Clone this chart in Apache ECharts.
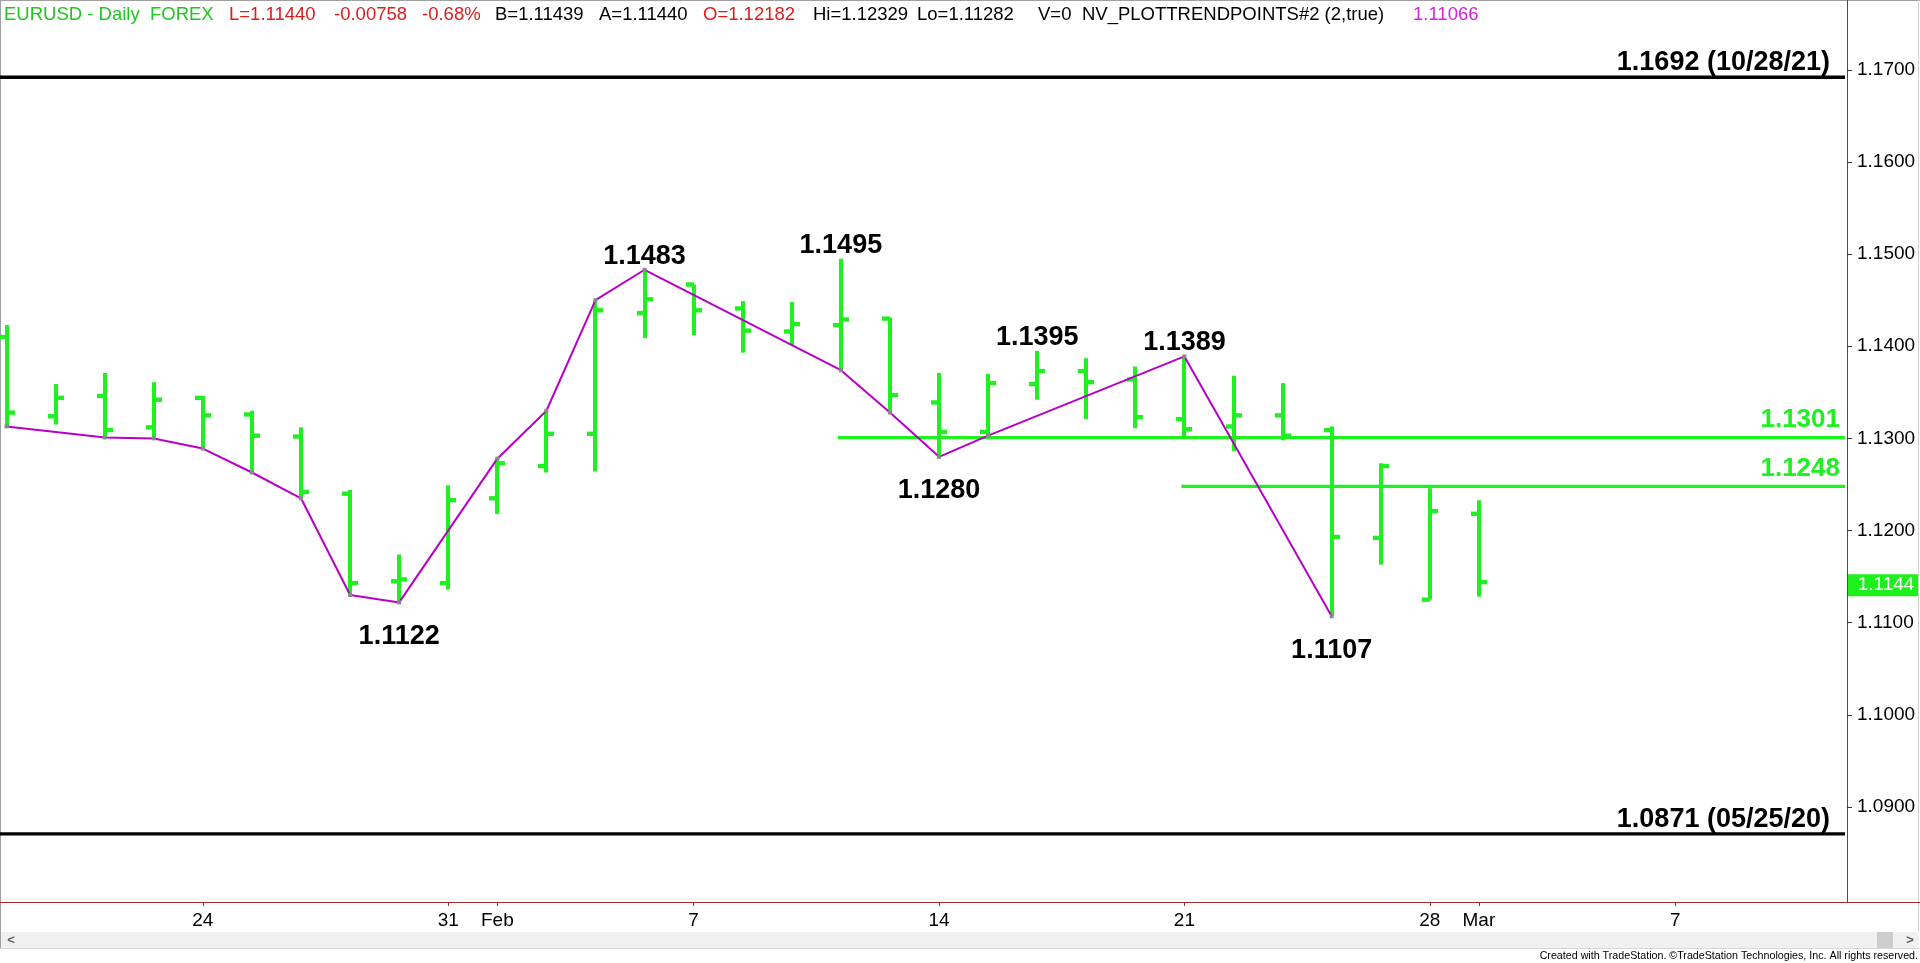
<!DOCTYPE html>
<html><head><meta charset="utf-8">
<script src="https://cdn.jsdelivr.net/npm/echarts@6/dist/echarts.min.js"></script>
<style>html,body{margin:0;padding:0;background:#fff;overflow:hidden}#chart{width:1920px;height:963px;}</style>
</head><body><div id="chart"></div>
<script>
// ---------- data ----------
const dates = ['2022-01-18','2022-01-19','2022-01-20','2022-01-21','2022-01-24','2022-01-25','2022-01-26','2022-01-27','2022-01-28','2022-01-31',
  '2022-02-01','2022-02-02','2022-02-03','2022-02-04','2022-02-07','2022-02-08','2022-02-09','2022-02-10','2022-02-11','2022-02-14',
  '2022-02-15','2022-02-16','2022-02-17','2022-02-18','2022-02-21','2022-02-22','2022-02-23','2022-02-24','2022-02-25','2022-02-28',
  '2022-03-01','2022-03-02','2022-03-03','2022-03-04','2022-03-07','2022-03-08','2022-03-09','2022-03-10'];
const tickLabels = ['','','','','24','','','','','31','Feb','','','','7','','','','','14','','','','','21','','','','','28','Mar','','','','7','','',''];
const opens  = [1.1410,1.1324,1.1346,1.1312,1.1344,1.1326,1.1302,1.1240,1.1145,1.1143,1.1235,1.1270,1.1305,1.1436,1.1467,1.1441,1.1416,1.1423,1.1430,1.1339,1.1307,1.1359,1.1373,1.1364,1.1321,1.1313,1.1325,1.1309,1.1192,1.1125,1.12182];
const highs  = [1.1423,1.1359,1.1371,1.1361,1.1346,1.1330,1.1312,1.1244,1.1174,1.1249,1.1278,1.1330,1.1450,1.1483,1.1467,1.1449,1.1448,1.1495,1.1431,1.1371,1.1370,1.1395,1.1387,1.1378,1.1389,1.1368,1.1360,1.1313,1.1273,1.1246,1.12329];
const lows   = [1.1313,1.1315,1.1301,1.1300,1.1289,1.1263,1.1235,1.1130,1.1122,1.1136,1.1218,1.1263,1.1264,1.1409,1.1412,1.1393,1.1401,1.1374,1.1328,1.1280,1.1303,1.1342,1.1321,1.1311,1.1302,1.1286,1.1298,1.1107,1.1163,1.1125,1.11282];
const closes = [1.1328,1.1344,1.1309,1.1342,1.1325,1.1303,1.1242,1.1143,1.1147,1.1233,1.1273,1.1305,1.1439,1.1451,1.1439,1.1417,1.1424,1.1429,1.1347,1.1307,1.1360,1.1373,1.1361,1.1323,1.1310,1.1325,1.1303,1.1193,1.1270,1.1221,1.11440];
const trendIdx  = [0,2,3,4,5,6,7,8,10,11,12,13,17,18,19,20,24,27];
const trendVals = [1.1313,1.1301,1.1300,1.1289,1.1263,1.1235,1.1130,1.1122,1.1278,1.1330,1.1450,1.1483,1.1374,1.1328,1.1280,1.1303,1.1389,1.1107];
const pivotIdx  = [8,13,17,19,21,24,27];
const pivotVals = [1.1122,1.1483,1.1495,1.1280,1.1395,1.1389,1.1107];
const pivotSide = ['below','above','above','below','above','above','below'];
const historicLevels = [1.1692,1.0871];
const historicDates  = ['10/28/21','05/25/20'];
const supportLevels  = [1.1301,1.1248];
const supportStart   = [17,24];
const yTicks = [1.09,1.10,1.11,1.12,1.13,1.14,1.15,1.16,1.17];
const headerParts = [
  ['EURUSD - Daily  FOREX','g'],['L=1.11440','r'],['-0.00758','r'],['-0.68%','r'],['B=1.11439','k'],['A=1.11440','k'],
  ['O=1.12182','r'],['Hi=1.12329','k'],['Lo=1.11282','k'],['V=0','k'],['NV_PLOTTRENDPOINTS#2 (2,true)','k'],['1.11066','m']];

// ---------- styles ----------
const GREEN = '#1ff01f', PURPLE = '#b800c8', AXIS = '#a0282d', FONT = '"Liberation Sans", Arial, sans-serif';
const headerColors = {g:'#1ec81e', r:'#dd1c1c', k:'#000000', m:'#e01ee0'};
const headerX = [4,229,334,422,495,599,703,813,917,1038,1082,1413];

const chart = echarts.init(document.getElementById('chart'), null, {renderer:'canvas'});

const graphics = [];
headerParts.forEach((p,i)=>{
  graphics.push({type:'text', x: headerX[i], y: 15, z: 100,
    style:{text:p[0], fill: headerColors[p[1]], font:'18.5px '+FONT, verticalAlign:'middle'}});
});
graphics.push(
  {type:'line', shape:{x1:0.5,y1:0,x2:0.5,y2:949}, style:{stroke:'#a0a0a0', lineWidth:1}},
  {type:'line', shape:{x1:0,y1:0.5,x2:1920,y2:0.5}, style:{stroke:'#a0a0a0', lineWidth:1}},
  {type:'line', shape:{x1:1918.5,y1:0,x2:1918.5,y2:931}, style:{stroke:'#d0d0d0', lineWidth:1}},
  {type:'line', shape:{x1:1847,y1:902.5,x2:1920,y2:902.5}, style:{stroke:AXIS, lineWidth:1}},
  {type:'rect', shape:{x:1,y:932,width:1918,height:16}, style:{fill:'#f0f0f0'}},
  {type:'rect', shape:{x:1877,y:932,width:16,height:16}, style:{fill:'#cdcdcd'}},
  {type:'line', shape:{x1:0,y1:948.5,x2:1920,y2:948.5}, style:{stroke:'#d8d8d8', lineWidth:1}},
  {type:'text', x:11, y:940, style:{text:'<', fill:'#606060', font:'bold 13px '+FONT, align:'center', verticalAlign:'middle'}},
  {type:'text', x:1910, y:940, style:{text:'>', fill:'#606060', font:'bold 13px '+FONT, align:'center', verticalAlign:'middle'}},
  {type:'text', x:1918, y:956, style:{text:'Created with TradeStation. \u00A9TradeStation Technologies, Inc. All rights reserved.', fill:'#000', font:'10.7px "Liberation Sans Narrow", "Arial Narrow", sans-serif', align:'right', verticalAlign:'middle'}}
);

const ohlcData = opens.map((o,i)=>[i, o, highs[i], lows[i], closes[i]]);

const option = {
  animation: false,
  backgroundColor: '#ffffff',
  grid: {left: -18, right: 73, top: 0, bottom: 61, containLabel: false, outerBoundsMode: 'none'},
  xAxis: {
    type: 'category', data: dates, boundaryGap: true,
    axisLine: {show: true, lineStyle: {color: AXIS, width: 1}},
    axisTick: {show: true, alignWithLabel: true, length: 4, interval: (i)=>tickLabels[i] !== '', lineStyle: {color: AXIS}},
    axisLabel: {interval: (i)=>tickLabels[i] !== '', formatter: (v,i)=>tickLabels[i], color: '#000', fontSize: 19, fontFamily: FONT, margin: 9},
    splitLine: {show: false}
  },
  yAxis: {
    type: 'value', position: 'right', min: 1.079691, max: 1.177575, scale: true,
    axisLine: {show: true, lineStyle: {color: AXIS, width: 1}},
    axisTick: {show: true, customValues: yTicks, length: 5, lineStyle: {color: '#333'}},
    axisLabel: {customValues: yTicks, formatter: (v)=>v.toFixed(4), color: '#000', fontSize: 19, fontFamily: FONT, margin: 10},
    splitLine: {show: false}
  },
  graphic: graphics,
  series: [
    { // horizontal levels
      type: 'custom', clip: false, z: 2,
      data: historicLevels.map(v=>[0, v]).concat(supportLevels.map((v,k)=>[supportStart[k], v])),
      encode: {x: 0, y: 1},
      renderItem: function(params, api){
        const k = params.dataIndex;
        const cs = params.coordSys;
        const isHist = k < historicLevels.length;
        const v = api.value(1);
        const y = api.coord([0, v])[1];
        const xEnd = cs.x + cs.width - 2;
        const xStart = isHist ? cs.x : api.coord([api.value(0), v])[0] - 3;
        const txt = isHist ? v.toFixed(4) + ' (' + historicDates[k] + ')' : v.toFixed(4);
        return {type:'group', children:[
          {type:'rect', shape:{x:xStart, y:y-1.6, width:xEnd-xStart, height:3.3}, style:{fill: isHist ? '#000' : GREEN}},
          {type:'text', style:{text: txt, x: isHist ? xEnd-15 : xEnd-5, y: y - (isHist?14.5:17.5), align:'right', verticalAlign:'middle',
            font: (isHist?'bold 27px ':'bold 26px ') + FONT, fill: isHist ? '#000' : GREEN}}
        ]};
      }
    },
    { // OHLC bars
      type: 'custom', z: 3,
      data: ohlcData,
      encode: {x: 0, y: [1,2,3,4]},
      renderItem: function(params, api){
        const i = api.value(0);
        const pH = api.coord([i, api.value(2)]);
        const pL = api.coord([i, api.value(3)]);
        const pO = api.coord([i, api.value(1)]);
        const pC = api.coord([i, api.value(4)]);
        const x = Math.round(pH[0]);
        return {type:'group', children:[
          {type:'rect', shape:{x:x-2, y:pH[1], width:4, height:pL[1]-pH[1]}, style:{fill:GREEN}},
          {type:'rect', shape:{x:x-8, y:pO[1]-2.2, width:8, height:4.4}, style:{fill:GREEN}},
          {type:'rect', shape:{x:x, y:pC[1]-2.2, width:8, height:4.4}, style:{fill:GREEN}}
        ]};
      }
    },
    { // trend line
      type: 'line', z: 4,
      data: trendIdx.map((i,k)=>[i, trendVals[k]]),
      symbol: 'rect', symbolSize: 4, showSymbol: true,
      itemStyle: {color: '#8a8a8a'},
      lineStyle: {color: PURPLE, width: 2},
      silent: true
    },
    { // pivot labels
      type: 'custom', clip: false, z: 5,
      data: pivotIdx.map((i,k)=>[i, pivotVals[k]]),
      encode: {x: 0, y: 1},
      renderItem: function(params, api){
        const k = params.dataIndex;
        const p = api.coord([api.value(0), api.value(1)]);
        const dy = pivotSide[k] === 'above' ? -13.5 : 34;
        return {type:'text', style:{text: pivotVals[k].toFixed(4), x: p[0], y: p[1]+dy, align:'center', verticalAlign:'middle',
          font:'bold 27px ' + FONT, fill:'#000'}};
      }
    },
    { // last price tag
      type: 'custom', clip: false, z: 6,
      data: [[closes.length-1, closes[closes.length-1]]],
      encode: {x: 0, y: 1},
      renderItem: function(params, api){
        const cs = params.coordSys;
        const y = api.coord([api.value(0), api.value(1)])[1];
        const x0 = cs.x + cs.width + 1;
        return {type:'group', children:[
          {type:'rect', shape:{x:x0, y:y-8, width:70, height:22}, style:{fill:'#1ef01e'}},
          {type:'text', style:{text: api.value(1).toFixed(4), x: x0+38, y: y+3, align:'center', verticalAlign:'middle', font:'19px '+FONT, fill:'#ffffff'}}
        ]};
      }
    }
  ]
};
chart.setOption(option);
</script>
</body></html>
